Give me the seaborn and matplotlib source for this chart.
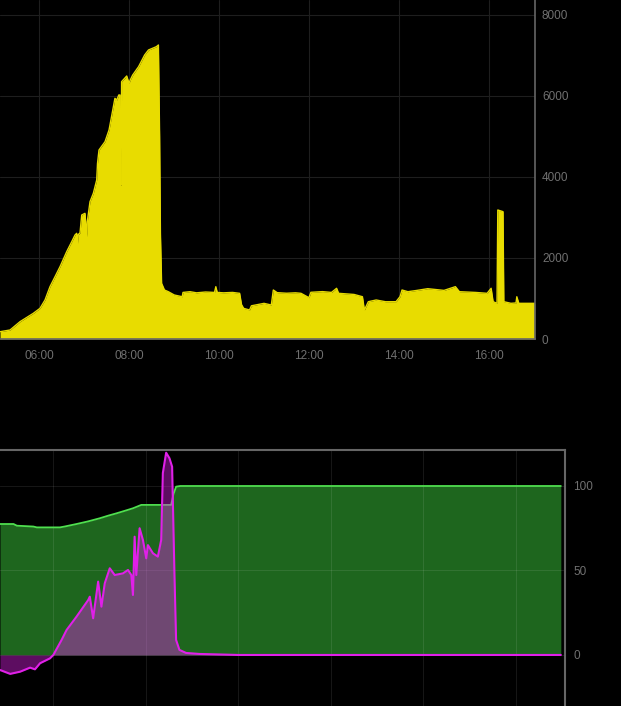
import matplotlib
matplotlib.use("Agg")
import matplotlib.pyplot as plt
import seaborn as sns
import pandas as pd

# ---------------- data ----------------
# Top panel: power (W) vs time of day (decimal hours)
power_hours = [5.133, 5.356, 5.578, 5.873, 6.022, 6.133, 6.244, 6.356, 6.467, 6.615,
               6.727, 6.800, 6.837, 6.855, 6.873, 6.911, 6.949, 7.022, 7.060, 7.073,
               7.133, 7.207, 7.282, 7.300, 7.333, 7.467, 7.556, 7.687, 7.729, 7.773,
               7.800, 7.810, 7.825, 7.835, 7.949, 8.000, 8.030, 8.082, 8.213, 8.347,
               8.433, 8.609, 8.653, 8.680, 8.698, 8.724, 8.787, 8.873, 9.007, 9.182,
               9.200, 9.356, 9.500, 9.700, 9.900, 9.929, 9.960, 10.100, 10.300, 10.458,
               10.500, 10.547, 10.678, 10.720, 10.809, 11.000, 11.162, 11.207, 11.293, 11.500,
               11.700, 11.822, 11.998, 12.042, 12.300, 12.500, 12.613, 12.658, 13.000, 13.187,
               13.231, 13.318, 13.493, 13.700, 13.933, 14.022, 14.067, 14.198, 14.400, 14.638,
               15.000, 15.253, 15.342, 15.700, 15.958, 16.047, 16.091, 16.178, 16.195, 16.311,
               16.329, 16.487, 16.600, 16.618, 16.662, 17.016]
power_watts = [180, 222, 428, 634, 757, 963, 1292, 1539, 1786, 2156,
               2403, 2568, 2609, 2362, 2580, 2620, 3062, 3103, 2526, 2900,
               3390, 3597, 3926, 4338, 4667, 4872, 5160, 5943, 5901, 6025,
               6025, 3802, 3802, 6353, 6494, 6313, 6400, 6518, 6724, 7012,
               7136, 7218, 7259, 5000, 2609, 1375, 1210, 1168, 1086, 1044,
               1150, 1168, 1140, 1160, 1150, 1292, 1150, 1140, 1150, 1128,
               850, 757, 716, 820, 839, 880, 839, 1210, 1144, 1130,
               1140, 1128, 1020, 1153, 1170, 1150, 1252, 1128, 1100, 1044,
               716, 921, 963, 920, 921, 1044, 1210, 1168, 1200, 1242,
               1200, 1292, 1168, 1150, 1128, 1252, 921, 881, 3185, 3144,
               921, 881, 890, 1044, 881, 881]

# Bottom panel: state of charge (%) and battery power (%)
soc_hours = [4.855, 5.147, 5.220, 5.577, 5.650, 6.150, 6.250, 6.509, 6.750, 7.011,
             7.200, 7.369, 7.550, 7.727, 7.907, 8.552, 8.600, 8.659, 8.750, 16.970]
soc_pct = [77.5, 77.5, 76.5, 76.0, 75.5, 75.5, 76.0, 77.5, 79.0, 80.9,
           82.5, 83.8, 85.3, 86.8, 88.8, 88.8, 95.0, 99.6, 100.0, 100.0]

batt_hours = [4.855, 5.075, 5.290, 5.505, 5.610, 5.720, 5.935, 6.007, 6.186, 6.294,
              6.509, 6.760, 6.795, 6.867, 6.975, 7.046, 7.118, 7.226, 7.333, 7.512,
              7.620, 7.692, 7.727, 7.763, 7.799, 7.871, 7.943, 8.014, 8.050, 8.158,
              8.265, 8.337, 8.373, 8.444, 8.516, 8.573, 8.623, 8.659, 8.731, 8.874,
              9.161, 10.000, 16.970]
batt_pct = [-8.9, -11.2, -9.9, -7.5, -8.5, -4.9, -2.0, 0.0, 8.9, 14.8,
            22.7, 32.5, 34.5, 21.7, 43.4, 28.6, 42.4, 51.3, 47.3, 48.3,
            50.3, 47.3, 35.5, 70.0, 47.3, 75.0, 68.0, 57.2, 65.0, 60.2,
            58.2, 68.0, 107.7, 119.7, 116.4, 111.4, 48.5, 8.9, 3.0, 1.2,
            0.6, 0.0, 0.0]

time_ticks = [6, 8, 10, 12, 14, 16]
time_labels = ["06:00", "08:00", "10:00", "12:00", "14:00", "16:00"]
power_ticks = [0, 2000, 4000, 6000, 8000]
pct_ticks = [0, 50, 100]

# ---------------- style ----------------
sns.set_theme(style="dark")
plt.rcParams["font.family"] = ["Liberation Sans", "DejaVu Sans"]

BG = "#000000"
TXT = "#707070"
SPINE = "#666666"
YELLOW = "#e8dc00"
GREEN_FILL = "#1e661e"
GREEN_LINE = "#4fe04f"
MAGENTA = "#e020e8"

fig = plt.figure(figsize=(6.21, 7.06), dpi=100, facecolor=BG)

# ---------------- top panel ----------------
ax1 = fig.add_axes([0.0, 1 - 339 / 706, 535 / 621, 339 / 706])
ax1.set_facecolor(BG)
df_p = pd.DataFrame({"t": power_hours, "w": power_watts})
ax1.fill_between(df_p["t"], 0, df_p["w"], color=YELLOW, linewidth=0, zorder=2)
sns.lineplot(data=df_p, x="t", y="w", ax=ax1, color=YELLOW, linewidth=1.0, zorder=3)
ax1.set_xlim(5.133, 17.022)
ax1.set_ylim(0, 8370)
ax1.set_xticks(time_ticks)
ax1.set_xticklabels(time_labels)
ax1.set_yticks(power_ticks)
ax1.set_yticklabels([str(v) for v in power_ticks])
ax1.yaxis.tick_right()
ax1.tick_params(axis="both", length=0, colors=TXT, labelsize=8.5)
ax1.tick_params(axis="x", pad=8)
ax1.tick_params(axis="y", pad=5)
ax1.set_xlabel("")
ax1.set_ylabel("")
ax1.grid(True, color="#1e1e1e", linewidth=0.8)
ax1.set_axisbelow(True)
for s in ["top", "left"]:
    ax1.spines[s].set_visible(False)
for s in ["right", "bottom"]:
    ax1.spines[s].set_color(SPINE)
    ax1.spines[s].set_linewidth(1.2)
    ax1.spines[s].set_zorder(4)

# ---------------- bottom panel ----------------
ax2 = fig.add_axes([0.0, 0.0, 565 / 621, (706 - 450) / 706])
ax2.set_facecolor(BG)
df_s = pd.DataFrame({"t": soc_hours, "v": soc_pct})
df_b = pd.DataFrame({"t": batt_hours, "v": batt_pct})
ax2.fill_between(df_s["t"], 0, df_s["v"], color=GREEN_FILL, linewidth=0, zorder=2)
sns.lineplot(data=df_s, x="t", y="v", ax=ax2, color=GREEN_LINE, linewidth=1.3, zorder=3)
ax2.fill_between(df_b["t"], 0, df_b["v"], color=MAGENTA, alpha=0.42, linewidth=0, zorder=4)
sns.lineplot(data=df_b, x="t", y="v", ax=ax2, color=MAGENTA, linewidth=1.5, zorder=5)
ax2.set_xlim(4.855, 17.06)
ax2.set_ylim(-30.2, 121.3)
ax2.set_xticks(time_ticks)
ax2.set_xticklabels([])
ax2.set_yticks(pct_ticks)
ax2.set_yticklabels([str(v) for v in pct_ticks])
ax2.yaxis.tick_right()
ax2.tick_params(axis="both", length=0, colors=TXT, labelsize=8.5)
ax2.tick_params(axis="y", pad=6)
ax2.set_xlabel("")
ax2.set_ylabel("")
ax2.grid(True, color="white", alpha=0.09, linewidth=0.8)
ax2.set_axisbelow(False)
for line in ax2.get_xgridlines() + ax2.get_ygridlines():
    line.set_zorder(6)
for s in ["bottom", "left"]:
    ax2.spines[s].set_visible(False)
for s in ["top", "right"]:
    ax2.spines[s].set_color(SPINE)
    ax2.spines[s].set_linewidth(1.5)
    ax2.spines[s].set_zorder(7)

fig.savefig("out.png", dpi=100, facecolor=BG)
